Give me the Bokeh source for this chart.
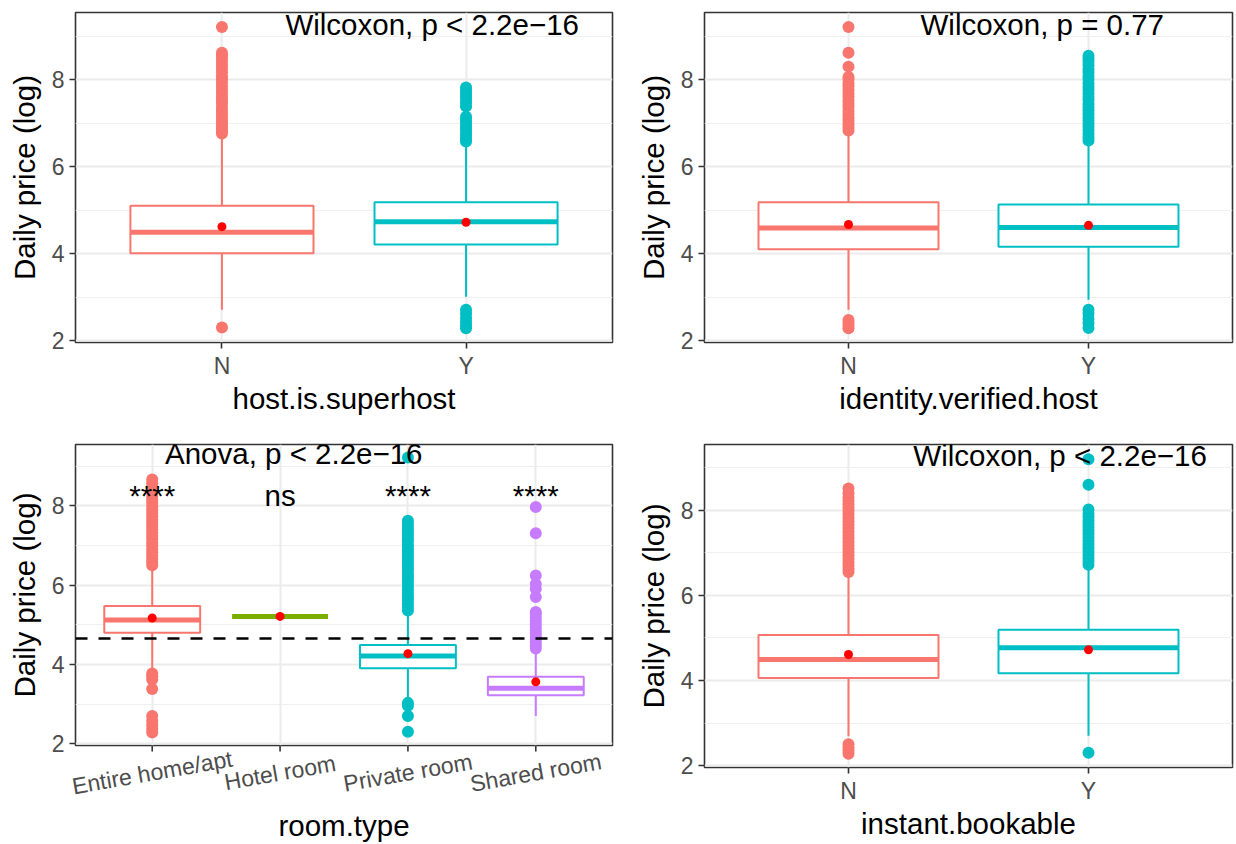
from bokeh.plotting import figure
from bokeh.models import Range1d, FixedTicker, Label, Span, ColumnDataSource, Grid
from bokeh.layouts import column, row
from bokeh.embed import file_html
from bokeh.resources import INLINE
from bokeh.core.properties import value

FONT = "Liberation Sans"
C2 = ["#F8766D", "#00BFC4"]
C4 = ["#F8766D", "#7CAE00", "#00BFC4", "#C77CFF"]

# ---------------- data ----------------
yn = ["N", "Y"]

# host.is.superhost
sh_q1 = [4.01, 4.21]
sh_med = [4.49, 4.73]
sh_q3 = [5.10, 5.18]
sh_wlo = [2.71, 3.01]
sh_whi = [6.72, 6.56]
sh_mean = [4.62, 4.72]
sh_out_N = [2.30, 6.76, 6.81, 6.87, 6.93, 6.99, 7.06, 7.13, 7.21, 7.28, 7.36, 7.45, 7.52, 7.60,
            7.69, 7.76, 7.85, 7.93, 8.01, 8.08, 8.17, 8.25, 8.33, 8.41, 8.49, 8.56, 8.62, 9.21]
sh_out_Y = [2.28, 2.35, 2.43, 2.52, 2.62, 2.71, 6.58, 6.64, 6.71, 6.78, 6.86, 6.93, 7.01, 7.08,
            7.15, 7.38, 7.46, 7.53, 7.61, 7.68, 7.75, 7.82]

# identity.verified.host
iv_q1 = [4.10, 4.16]
iv_med = [4.59, 4.60]
iv_q3 = [5.18, 5.13]
iv_wlo = [2.71, 2.94]
iv_whi = [6.80, 6.58]
iv_mean = [4.67, 4.65]
iv_out_N = [2.28, 2.34, 2.41, 2.47, 6.83, 6.90, 6.97, 7.05, 7.12, 7.20, 7.28, 7.37, 7.44, 7.52,
            7.61, 7.68, 7.76, 7.85, 7.92, 8.01, 8.06, 8.30, 8.62, 9.21]
iv_out_Y = [2.29, 2.40, 2.50, 2.62, 2.71, 6.60, 6.67, 6.75, 6.83, 6.91, 6.98, 7.06, 7.13, 7.21,
            7.29, 7.36, 7.44, 7.53, 7.60, 7.68, 7.77, 7.84, 7.92, 8.01, 8.08, 8.17, 8.24, 8.33,
            8.41, 8.48, 8.55]

# room.type
rooms = ["Entire home/apt", "Hotel room", "Private room", "Shared room"]
rt_q1 = [4.80, 5.21, 3.90, 3.22]
rt_med = [5.12, 5.21, 4.21, 3.40]
rt_q3 = [5.47, 5.21, 4.49, 3.69]
rt_wlo = [3.82, 5.21, 3.08, 2.70]
rt_whi = [6.45, 5.21, 5.33, 4.33]
rt_mean = [5.17, 5.21, 4.27, 3.56]
rt_out_entire = [2.28, 2.38, 2.48, 2.58, 2.70, 3.38, 3.62, 3.70, 3.77, 6.50, 6.58, 6.66, 6.74,
                 6.83, 6.91, 6.99, 7.07, 7.16, 7.24, 7.32, 7.40, 7.49, 7.57, 7.65, 7.73, 7.82,
                 7.90, 7.98, 8.07, 8.15, 8.23, 8.32, 8.40, 8.48, 8.57, 8.66]
rt_out_hotel = []
rt_out_private = [2.30, 2.70, 2.96, 3.03, 5.36, 5.44, 5.52, 5.61, 5.69, 5.77, 5.86, 5.94, 6.02,
                  6.11, 6.19, 6.27, 6.36, 6.44, 6.52, 6.61, 6.69, 6.77, 6.86, 6.94, 7.02, 7.11,
                  7.19, 7.27, 7.36, 7.44, 7.53, 7.62, 9.22]
rt_out_shared = [4.40, 4.47, 4.55, 4.62, 4.70, 4.78, 4.86, 4.94, 5.02, 5.10, 5.19, 5.27, 5.32,
                 5.70, 5.91, 6.03, 6.24, 7.31, 7.97]
rt_signif = ["****", "ns", "****", "****"]
rt_signif_y = 8.04
rt_overall_mean = 4.65

# instant.bookable
ib_q1 = [4.06, 4.17]
ib_med = [4.49, 4.77]
ib_q3 = [5.07, 5.19]
ib_wlo = [2.69, 2.70]
ib_whi = [6.50, 6.68]
ib_mean = [4.61, 4.72]
ib_out_N = [2.28, 2.35, 2.42, 2.50, 6.55, 6.62, 6.70, 6.78, 6.86, 6.94, 7.02, 7.10, 7.18, 7.26,
            7.34, 7.42, 7.50, 7.58, 7.66, 7.74, 7.82, 7.90, 7.98, 8.06, 8.14, 8.22, 8.30, 8.40,
            8.51]
ib_out_Y = [2.30, 6.72, 6.80, 6.88, 6.96, 7.04, 7.12, 7.20, 7.28, 7.36, 7.44, 7.52, 7.60, 7.68,
            7.76, 7.84, 7.92, 8.02, 8.60, 9.20]

y_min, y_max = 1.955, 9.545
y_ticks = [2, 4, 6, 8]
y_minor = [3, 5, 7, 9]
stat_y = 8.98

TITLE_SIZE = "29.5px"
TICK_SIZE = "23px"
LABEL_SHIFT_PX = 13   # compensates the baseline offset of Label annotations
GLYPH_SHIFT_PX = 9    # same for text glyphs
TICK_COLOR = "#333333"
GRID_COLOR = "#EBEBEB"


def style_axes(p, xticks, xlabels, rotated=False):
    axes = [p.yaxis[0]]
    if not rotated:
        p.xaxis.ticker = FixedTicker(ticks=xticks)
        p.xaxis.major_label_overrides = {t: l for t, l in zip(xticks, xlabels)}
        p.xgrid.ticker = FixedTicker(ticks=xticks)
        p.xgrid.grid_line_color = GRID_COLOR
        p.xgrid.grid_line_width = 2
        axes.append(p.xaxis[0])
    else:
        p.add_layout(Grid(dimension=0, ticker=FixedTicker(ticks=xticks),
                          grid_line_color=GRID_COLOR, grid_line_width=2))
    p.yaxis.ticker = FixedTicker(ticks=y_ticks, minor_ticks=y_minor)
    p.ygrid.ticker = FixedTicker(ticks=y_ticks, minor_ticks=y_minor)
    for ax in axes:
        ax.axis_line_color = None
        ax.major_tick_line_color = TICK_COLOR
        ax.major_tick_line_width = 1.6
        ax.major_tick_out = 6
        ax.major_tick_in = 0
        ax.minor_tick_line_color = None
        ax.major_label_text_font = FONT
        ax.major_label_text_font_size = TICK_SIZE
        ax.major_label_text_color = "#4D4D4D"
        ax.axis_label_text_font = FONT
        ax.axis_label_text_font_size = TITLE_SIZE
        ax.axis_label_text_font_style = "normal"
        ax.axis_label_text_color = "black"
    p.yaxis.major_label_standoff = 5
    p.yaxis.axis_label_standoff = 8
    if not rotated:
        p.xaxis.major_label_standoff = 4
        p.xaxis.axis_label_standoff = 0
    p.ygrid.grid_line_color = GRID_COLOR
    p.ygrid.grid_line_width = 2
    p.ygrid.minor_grid_line_color = "#EFEFEF"
    p.ygrid.minor_grid_line_width = 1.2
    p.outline_line_color = TICK_COLOR
    p.outline_line_width = 1.6


def make_panel(width, height, mbl, mbr, mbt, mbb, cats, colors, q1, med, q3, wlo, whi, mean,
               outs, xlabel, stat_text, stat_x, rotated=False):
    n = len(cats)
    xs = list(range(1, n + 1))
    frame_h = height - mbt - mbb
    unit = (y_max - y_min) / frame_h
    kw = dict(x_axis_type=None) if rotated else dict(x_axis_label=xlabel)
    p = figure(width=width, height=height, x_range=Range1d(0.4, n + 0.6),
               y_range=Range1d(y_min, y_max), output_backend="svg", toolbar_location=None,
               min_border_left=mbl, min_border_right=mbr, min_border_top=mbt,
               min_border_bottom=mbb, y_axis_label="Daily price (log)", **kw)
    style_axes(p, xs, cats, rotated)

    ox, oy, oc = [], [], []
    for i, vals in enumerate(outs):
        ox += [xs[i]] * len(vals)
        oy += vals
        oc += [colors[i]] * len(vals)
    p.scatter(x=ox, y=oy, size=12, color=oc, line_color=None)

    src = ColumnDataSource(dict(x=xs, left=[x - 0.375 for x in xs], right=[x + 0.375 for x in xs],
                                q1=q1, med=med, q3=q3, wlo=wlo, whi=whi, mean=mean, color=colors))
    p.segment(x0="x", y0="q3", x1="x", y1="whi", line_color="color", line_width=2, source=src)
    p.segment(x0="x", y0="q1", x1="x", y1="wlo", line_color="color", line_width=2, source=src)
    p.quad(left="left", right="right", bottom="q1", top="q3", fill_color="white",
           line_color="color", line_width=2, source=src)
    p.segment(x0="left", y0="med", x1="right", y1="med", line_color="color", line_width=5,
              source=src)
    p.scatter(x="x", y="mean", size=9, color="#FF0000", line_color=None, source=src)

    p.add_layout(Label(x=stat_x, y=stat_y + LABEL_SHIFT_PX * unit, text=stat_text,
                       text_font=FONT, text_font_size=TITLE_SIZE, text_color="black",
                       text_align="left", text_baseline="alphabetic"))
    return p, unit


W_LEFT, W_RIGHT = 633, 601
H_TOP, H_BOT = 426, 416

p1, _ = make_panel(W_LEFT, H_TOP, 75, 21, 12, 84, yn, C2, sh_q1, sh_med, sh_q3, sh_wlo, sh_whi,
                   sh_mean, [sh_out_N, sh_out_Y], "host.is.superhost",
                   "Wilcoxon, p < 2.2e\u221216", 1.26)
p2, _ = make_panel(W_RIGHT, H_TOP, 67, 2, 12, 84, yn, C2, iv_q1, iv_med, iv_q3, iv_wlo, iv_whi,
                   iv_mean, [iv_out_N, iv_out_Y], "identity.verified.host",
                   "Wilcoxon, p = 0.77", 1.30)

P3_LEFT, P3_RIGHT, P3_TOP, P3_FRAME, P3_BOTTOM = 75, 21, 18, 301, 14
p3, unit3 = make_panel(W_LEFT, P3_TOP + P3_FRAME + P3_BOTTOM, P3_LEFT, P3_RIGHT, P3_TOP,
                       P3_BOTTOM, rooms, C4, rt_q1, rt_med, rt_q3, rt_wlo, rt_whi, rt_mean,
                       [rt_out_entire, rt_out_hotel, rt_out_private, rt_out_shared], None,
                       "Anova, p < 2.2e\u221216", 1.10, rotated=True)
p3.add_layout(Span(location=rt_overall_mean, dimension="width", line_color="black",
                   line_width=2.5, line_dash="12 11"))
p3.text(x=list(range(1, 5)), y=[rt_signif_y + GLYPH_SHIFT_PX * unit3] * 4, text=rt_signif,
        text_font=value(FONT), text_font_size=value(TITLE_SIZE), text_align="center",
        text_baseline="alphabetic", text_color="black")

# transparent strip under panel 3 (overlapping its bottom border): tick marks,
# slanted category labels and the axis title
STRIP_H = H_BOT - (P3_TOP + P3_FRAME)
px_per_unit = (W_LEFT - P3_LEFT - P3_RIGHT) / 4.2
strip = figure(width=W_LEFT, height=STRIP_H,
               x_range=Range1d(0.4 - P3_LEFT / px_per_unit, 0.4 + (W_LEFT - P3_LEFT) / px_per_unit),
               y_range=Range1d(0, STRIP_H), output_backend="svg", toolbar_location=None,
               x_axis_type=None, y_axis_type=None, min_border_left=0, min_border_right=0,
               min_border_top=0, min_border_bottom=0, outline_line_color=None,
               background_fill_color=None, border_fill_color=None)
xs4 = list(range(1, 5))
strip.segment(x0=xs4, y0=[STRIP_H] * 4, x1=xs4, y1=[STRIP_H - 6] * 4, line_color=TICK_COLOR,
              line_width=1.6)
strip.text(x=xs4, y=[STRIP_H - 27] * 4, text=rooms, angle=10, angle_units="deg",
           text_align="center", text_baseline="middle", text_font=value(FONT),
           text_font_size=value(TICK_SIZE), text_color="#4D4D4D")
strip.text(x=[2.5], y=[17], text=["room.type"], text_align="center", text_baseline="middle",
           text_font=value(FONT), text_font_size=value(TITLE_SIZE), text_color="black")

p4, _ = make_panel(W_RIGHT, H_BOT, 67, 2, 18, 75, yn, C2, ib_q1, ib_med, ib_q3, ib_wlo, ib_whi,
                   ib_mean, [ib_out_N, ib_out_Y], "instant.bookable",
                   "Wilcoxon, p < 2.2e\u221216", 1.27)

layout = column(row(p1, p2),
                row(column(p3, row(strip, margin=(-P3_BOTTOM, 0, 0, 0))), p4))
open("out.html", "w").write(file_html(layout, INLINE))
